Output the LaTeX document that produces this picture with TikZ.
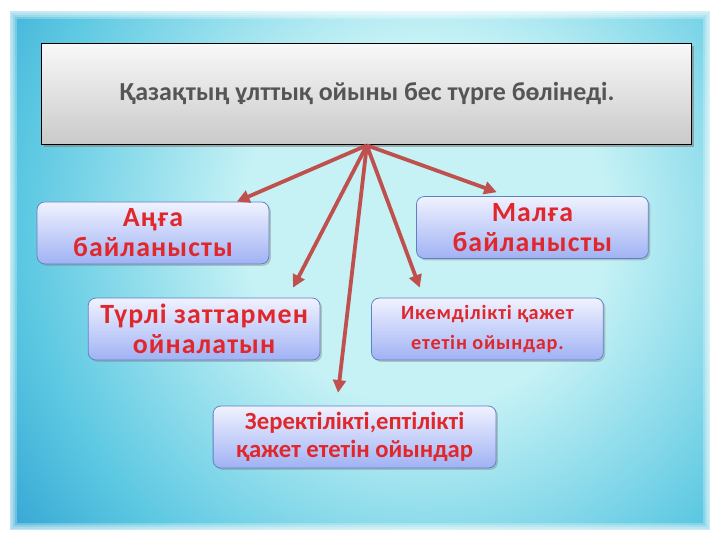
\documentclass[tikz,border=0pt]{standalone}
\usepackage{fontspec}
\setmainfont{Carlito}
\newfontfamily\spacedfont[LetterSpace=4]{Carlito}
\usetikzlibrary{shadows,arrows.meta}
\definecolor{myRed}{HTML}{C0504D}
\definecolor{myText}{HTML}{E0282C}
\definecolor{myGray}{HTML}{555555}
\definecolor{myBorder}{HTML}{5E80C4}
\definecolor{myTop}{HTML}{F0F2FF}
\definecolor{myBottom}{HTML}{A0B2F4}
\definecolor{myCyanL}{HTML}{3AAAD6}
\definecolor{myCyanM}{HTML}{C6F2F5}
\definecolor{myCyanO}{HTML}{5CC8E2}
\pgfdeclareradialshading{glow}{\pgfpoint{0bp}{0bp}}{color(0bp)=(myCyanM); color(9bp)=(myCyanM); color(20bp)=(myCyanO); color(25bp)=(myCyanL); color(50bp)=(myCyanL)}

\begin{document}
\begin{tikzpicture}[>={Triangle[length=10pt,width=10pt]}, ->, line width=3pt, myRed]

  \tikzstyle{T}=[rectangle, draw=black, line width=0.7pt, top color=gray!5, bottom color=gray!42, minimum width=18.06cm, minimum height=2.83cm, text=myGray, font=\bfseries\fontsize{20.5}{24}\selectfont, drop shadow={shadow xshift=2pt, shadow yshift=-2pt, opacity=0.6}]
  \tikzstyle{K}=[rectangle, rounded corners=6pt, draw=myBorder, line width=0.6pt, top color=myTop, bottom color=myBottom, minimum width=6.44cm, minimum height=1.72cm, text=myText, align=center, font=\spacedfont\bfseries\fontsize{22}{23.6}\selectfont, drop shadow={shadow xshift=1.5pt, shadow yshift=-1.5pt, opacity=0.4}]

  % background
  \useasboundingbox (0,0) rectangle (20,15);
  \fill[-, white] (0,0) rectangle (20,15);
  \begin{scope}
    \clip (0.28,0.28) rectangle (19.72,14.67);
    \fill[-, myCyanL] (0.28,0.28) rectangle (19.72,14.67);
    \shade[-, shading=glow] (11.8,8.8) circle (14);
  \end{scope}
  \foreach \w in {2,5,8,11}
    \draw[-, white, opacity=0.25, line width=\w pt] (0.28,0.28) rectangle (19.72,14.67);

  \node[T] at (10.19,12.39) (main) {Қазақтың ұлттық ойыны бес түрге бөлінеді.};

  \node[K] at (4.25,8.53) (anga) {Аңға\\байланысты};
  \node[K] at (14.79,8.68) (malga) {Малға\\байланысты};
  \node[K] at (5.67,5.86) (turli) {Түрлі заттармен\\ойналатын};
  \node[K, font=\spacedfont\bfseries\fontsize{16}{24}\selectfont] at (13.54,5.86) (ikem) {Икемділікті қажет\\ететін ойындар.};
  \node[K, minimum width=7.86cm, font=\bfseries\fontsize{19.5}{22}\selectfont] at (9.85,2.86) (zerek) {Зеректілікті,ептілікті\\қажет ететін ойындар};

  \draw (main.south) -- ([xshift=2.33cm]anga.north);
  \draw (main.south) -- ([xshift=2.47cm, yshift=0.28cm]turli.north);
  \draw (main.south) -- ([xshift=-0.46cm, yshift=0.36cm]zerek.north);
  \draw (main.south) -- ([xshift=-1.88cm, yshift=0.28cm]ikem.north);
  \draw (main.south) -- ([xshift=-0.99cm, yshift=0.11cm]malga.north);

\end{tikzpicture}
\end{document}
